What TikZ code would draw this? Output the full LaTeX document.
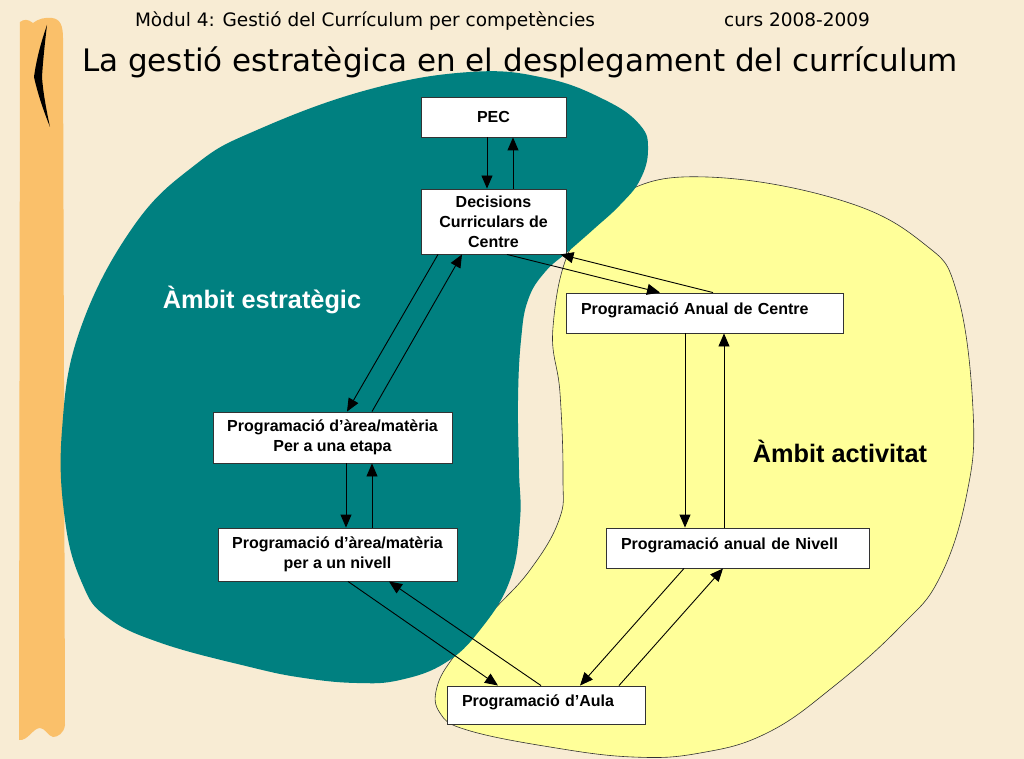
\documentclass[tikz,border=0pt]{standalone}
\usepackage{fontspec}
\setmainfont{Liberation Sans}
\newfontfamily\handfont{DejaVu Sans}
\usetikzlibrary{arrows.meta}
\definecolor{parchment}{RGB}{248,236,212}
\definecolor{stripe}{RGB}{250,192,106}
\definecolor{estrateg}{RGB}{0,128,128}
\definecolor{activ}{RGB}{255,255,153}
\begin{document}
\begin{tikzpicture}[x=1pt, y=-1pt,
    progbox/.style={draw=black!80, fill=white, line width=0.9pt, align=center, inner sep=0pt, font=\fontsize{16}{20}\selectfont\bfseries},
    actbox/.style={progbox, align=left, inner xsep=15pt, text height=11.5pt, text depth=9pt},
    link/.style={-{Triangle[length=13pt,width=11pt]}, line width=0.9pt},
    ambit/.style={anchor=base, font=\fontsize{25.3}{30}\selectfont\bfseries}]
    \useasboundingbox (0,0) rectangle (1024,759);
    \fill[parchment] (0,0) rectangle (1024,759);
    % left stripe
    \fill[stripe] (19,740) -- (20,22) .. controls (24,19) and (28,19) .. (33,23)
        .. controls (38,19) and (45,17) .. (52,18) .. controls (60,19) and (63,25) .. (63,38)
        -- (65,725) .. controls (64,733) and (58,737) .. (53,737)
        .. controls (48,736) and (45,728) .. (40,728) .. controls (33,728) and (28,741) .. (19,740) -- cycle;
    \fill[black] (47,25) .. controls (40,45) and (36,62) .. (34,77)
        .. controls (38,95) and (44,112) .. (50,127)
        .. controls (46,108) and (43,92) .. (42,77)
        .. controls (43,60) and (45,42) .. (47,25) -- cycle;
    % areas
    \filldraw[fill=activ, draw=black!80, line width=0.6pt] plot[smooth cycle, tension=0.7] coordinates {
        (553,327) (573,243) (623,193) (707,177) (840,200) (923,243) (957,293) (973,410)
        (967,493) (940,577) (900,627) (833,687) (767,733) (700,753) (633,757) (550,747)
        (467,730) (440,713) (437,687) (455,655) (491,613) (530,570) (559,520) (563,477) (560,393)};
    \fill[estrateg] plot[smooth cycle, tension=0.7] coordinates {
        (257,130) (367,90) (470,72) (545,78) (605,100) (640,125) (648,150) (640,180)
        (620,205) (595,228) (570,250) (545,272) (528,300) (521,340) (518,400) (519,470)
        (520,520) (510,580) (480,630) (445,663) (400,680) (357,683) (304,678) (250,667)
        (161,643) (107,617) (82,583) (65,520) (62,430) (80,330) (133,227) (195,165)};
    % titles
    \node[anchor=base, font=\handfont\fontsize{18.5}{22}\selectfont] (modul) at (365,27) {Mòdul 4: Gestió del Currículum per competències};
    \node[anchor=base, font=\handfont\fontsize{18.5}{22}\selectfont] (curs) at (797,27) {curs 2008-2009};
    \node[anchor=base, font=\handfont\fontsize{31}{36}\selectfont] (titol) at (520,72) {La gestió estratègica en el desplegament del currículum};
    \node[ambit, text=white] (estr) at (262,308) {Àmbit estratègic};
    \node[ambit] (activ) at (840,462) {Àmbit activitat};
    % boxes
    \node[progbox, minimum width=145pt, minimum height=40pt] (pec) at (493.5,117) {PEC};
    \node[progbox, minimum width=145pt, minimum height=65pt] (dcc) at (493.5,221.5) {Decisions\\Curriculars de\\Centre};
    \node[progbox, minimum width=239pt, minimum height=51pt] (etapa) at (332.5,437.5) {Programació d’àrea/matèria\\Per a una etapa};
    \node[progbox, minimum width=239pt, minimum height=53pt] (nivell) at (337.5,554.5) {Programació d’àrea/matèria\\per a un nivell};
    \node[actbox, text width=247pt, minimum height=40pt] (pac) at (704.5,313) {Programació Anual de Centre};
    \node[actbox, text width=233pt, minimum height=40pt] (pan) at (737.5,548) {Programació anual de Nivell};
    \node[actbox, text width=168pt, minimum height=38pt] (aula) at (546,705) {Programació d’Aula};
    % connectors
    \draw[link] ([xshift=-6.5pt]pec.south) -- ([xshift=-6.5pt]dcc.north);
    \draw[link] ([xshift=19.5pt]dcc.north) -- ([xshift=19.5pt]pec.south);
    \draw[link] ([xshift=13.5pt]dcc.south) -- ([xshift=-44.5pt]pac.north);
    \draw[link] ([xshift=8.5pt]pac.north) -- ([xshift=-6pt]dcc.south east);
    \draw[link] ([xshift=-55.5pt]dcc.south) -- ([xshift=14.5pt]etapa.north);
    \draw[link] ([xshift=39.5pt]etapa.north) -- ([xshift=-31.5pt]dcc.south);
    \draw[link] ([xshift=13.5pt]etapa.south) -- ([xshift=8.5pt]nivell.north);
    \draw[link] ([xshift=34.5pt]nivell.north) -- ([xshift=39.5pt]etapa.south);
    \draw[link] ([xshift=-19.5pt]pac.south) -- ([xshift=-52.5pt]pan.north);
    \draw[link] ([xshift=-13.5pt]pan.north) -- ([xshift=19.5pt]pac.south);
    \draw[link] ([xshift=10.5pt]nivell.south) -- ([xshift=-48pt]aula.north);
    \draw[link] ([xshift=-5pt]aula.north) -- ([xshift=51.5pt]nivell.south);
    \draw[link] ([xshift=-53.5pt]pan.south) -- ([xshift=34pt]aula.north);
    \draw[link] ([xshift=73pt]aula.north) -- ([xshift=-14.5pt]pan.south);
\end{tikzpicture}
\end{document}
